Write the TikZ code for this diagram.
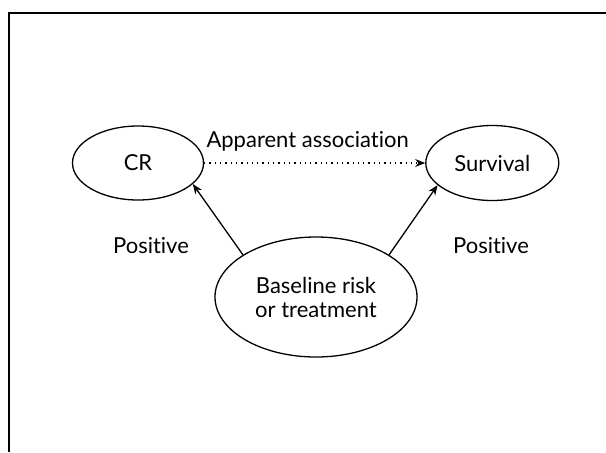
\documentclass[tikz,border=0pt]{standalone}
\usepackage{fontspec}
\setmainfont{Lato}[Ligatures=NoCommon]
\usetikzlibrary{shapes.geometric, arrows.meta, positioning}

\begin{document}
\begin{tikzpicture}[
        x=0.5pt, y=-0.5pt,
        font=\fontsize{11}{12}\selectfont,
        node distance=110.5pt,
        oval/.style={ellipse, draw=black, line width=0.65pt, inner sep=0pt, align=center},
        arrow/.style={-{Stealth[length=5pt, width=4pt]}, line width=0.65pt, draw=black}
    ]
    \useasboundingbox (0,0) rectangle (606,452);
    \draw [line width=1pt] (9,452) -- (9,13) -- (606,13);

    % Nodes
    \node (cr) [oval, minimum width=65.5pt, minimum height=37pt] at (138,163) {CR};
    \node (survival) [oval, minimum width=66.5pt, minimum height=37.5pt, right=of cr] {Survival};
    \node (baseline) [oval, minimum width=101pt, minimum height=60pt] at (316,297) {Baseline risk\\or treatment};
    \node (posleft) at (151,246) {Positive};
    \node (posright) at (491,246) {Positive};

    % Arrows
    \draw [arrow, dotted] (cr) -- node [above=2pt, xshift=-3.5pt] {Apparent association} (survival);
    \draw [arrow] (baseline.150) -- (cr.-21);
    \draw [arrow] (baseline.30) -- (survival.-158);
\end{tikzpicture}
\end{document}
